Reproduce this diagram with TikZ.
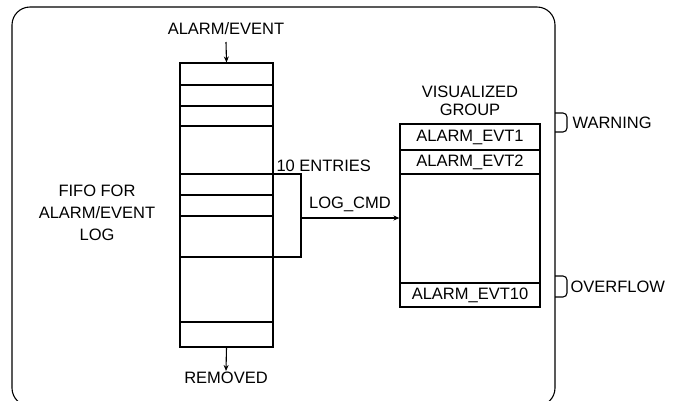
\documentclass[tikz,border=0pt]{standalone}
\usepackage{fontspec}
\setmainfont{Liberation Sans}
\usetikzlibrary{arrows.meta}
\begin{document}
\begin{tikzpicture}[x=1pt,y=-1pt,
  line width=1.1pt,
  lbl/.style={inner sep=0pt,font=\fontsize{16.5}{19}\selectfont},
  box/.style={draw,rectangle,inner sep=0pt},
  arr/.style={-{Stealth[length=6pt,width=5pt]}}]
\useasboundingbox (0,0) rectangle (673,400);
\begin{scope}
\clip (0,0) rectangle (673,400);
\draw[rounded corners=18pt] (12,7) rectangle (555,406);
\end{scope}
% FIFO
\node[box,minimum width=93pt,minimum height=284pt] (fifo) at (226.5,205) {};
\foreach \yy in {85,106,126,174,195,216,257,322}
  \draw (fifo.west |- 0,\yy) -- (fifo.east |- 0,\yy);
\node[lbl] (ae) at (226,29) {ALARM/EVENT};
\coordinate (aein) at (226,42);
\draw[arr] (aein) -- (fifo.north);
\node[lbl,anchor=north] (rem) at (226,371) {REMOVED};
\draw[arr] (fifo.south) -- (rem.north);
\node[lbl,align=center] (fifolbl) at (97,213) {FIFO FOR\\[3pt]ALARM/EVENT\\[3pt]LOG};
% bracket
\coordinate (b1) at (301,174);
\coordinate (b2) at (301,257);
\coordinate (bm) at (301,218);
\draw (fifo.east |- b1) -- (b1) -- (b2) -- (fifo.east |- b2);
\node[lbl,anchor=west] (ten) at (276,166) {10 ENTRIES};
\node[lbl] (logcmd) at (350,204) {LOG\_CMD};
% visualized group
\node[box,minimum width=140pt,minimum height=183pt] (vg) at (470,215.5) {};
\foreach \yy in {150,174,283}
  \draw (vg.west |- 0,\yy) -- (vg.east |- 0,\yy);
\draw[arr] (bm) -- (bm -| vg.west);
\node[lbl,align=center] (vgt) at (470,101) {VISUALIZED\\[-1pt]GROUP};
\node[lbl] (e1) at (470,137) {ALARM\_EVT1};
\node[lbl] (e2) at (470,162) {ALARM\_EVT2};
\node[lbl] (e10) at (470,295) {ALARM\_EVT10};
% warning / overflow
\draw[rounded corners=4pt] (555,113) -- (567,113) -- (567,132) -- (555,132);
\node[lbl,anchor=west] (warn) at (572,123) {WARNING};
\draw[rounded corners=4pt] (555,276) -- (567,276) -- (567,297) -- (555,297);
\node[lbl,anchor=west] (ovf) at (570,287) {OVERFLOW};
\end{tikzpicture}
\end{document}
